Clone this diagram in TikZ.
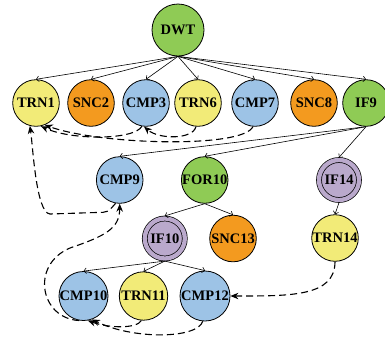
\documentclass[tikz,border=0pt]{standalone}
\usepackage{fontspec}
\setmainfont{Liberation Serif}
\usetikzlibrary{arrows.meta}
\definecolor{gnode}{HTML}{8FCB55}
\definecolor{ynode}{HTML}{F2EB78}
\definecolor{onode}{HTML}{F39A1F}
\definecolor{bnode}{HTML}{9DC3E6}
\definecolor{pnode}{HTML}{BAA9CC}
\begin{document}
\begin{tikzpicture}[x=1pt,y=-1pt,
  vtx/.style={circle,draw=black,line width=0.8pt,inner sep=0pt,minimum size=46.6pt,
    font=\fontsize{14.5}{14.5}\selectfont\bfseries},
  big/.style={minimum size=49pt},
  gv/.style={vtx,fill=gnode},
  yv/.style={vtx,fill=ynode},
  ov/.style={vtx,fill=onode},
  bv/.style={vtx,fill=bnode},
  pv/.style={vtx,fill=pnode,minimum size=40pt,line width=0.7pt,
    double=pnode,double distance=4.3pt,outer sep=2.6pt},
  tree/.style={line width=0.6pt,-{Straight Barb[length=2.5pt,width=5.5pt]}},
  flow/.style={line width=1.1pt,dash pattern=on 7pt off 4pt,
    -{Stealth[length=8pt,width=6.5pt]}}
]
\useasboundingbox (0,0) rectangle (385,341);

% nodes
\node[gv,minimum size=52pt] (DWT) at (178,30) {DWT};

\node[yv] (TRN1) at (36,103) {TRN1};
\node[ov] (SNC2) at (91,103) {SNC2};
\node[bv] (CMP3) at (146,103) {CMP3};
\node[yv] (TRN6) at (198,103) {TRN6};
\node[bv] (CMP7) at (255,103) {CMP7};
\node[ov] (SNC8) at (314,103) {SNC8};
\node[gv] (IF9) at (366,103) {IF9};

\node[bv] (CMP9) at (119.7,180) {CMP9};
\node[gv] (FOR10) at (204.7,180) {FOR10};
\node[pv] (IF14) at (339,180) {IF14};

\node[pv] (IF10) at (164.8,238.5) {IF10};
\node[ov] (SNC13) at (233,238.5) {SNC13};
\node[yv] (TRN14) at (335,238) {TRN14};

\node[bv,big] (CMP10) at (83.5,296) {CMP10};
\node[yv,big,minimum size=48.4pt] (TRN11) at (143.5,296) {TRN11};
\node[bv,big,minimum size=50pt] (CMP12) at (205,296) {CMP12};

% tree structure
\foreach \c in {TRN1,SNC2,CMP3,TRN6,CMP7,SNC8,IF9}
  \draw[tree] (DWT.south) -- (\c.north);
\foreach \c in {CMP9,FOR10,IF14}
  \draw[tree] (IF9.south) -- (\c.north);
\foreach \c in {IF10,SNC13}
  \draw[tree] (FOR10.south) -- (\c.north);
\draw[tree] (IF14.south) -- (TRN14.north);
\foreach \c in {CMP10,TRN11,CMP12}
  \draw[tree] (IF10.south) -- (\c.north);

% data flow
\coordinate (dA) at (96,212.5);
\coordinate (dB) at (50,214);
\coordinate (eM) at (70,248);

\draw[flow] (CMP3.-100) .. controls +(-8,14) and +(30,14) .. (TRN1.-78);
\draw[flow] (TRN6.-95) .. controls +(-3,13) and +(15,13) .. (CMP3.-95);
\draw[flow] (CMP7.-95) .. controls +(-10,22) and +(55,20) .. (TRN1.-68);
\draw[flow] (CMP9.-100) .. controls +(-8,9) and +(12,0) .. (dA) -- (dB)
  .. controls +(-14,-1) and +(3,20) .. (TRN1.-105);
\draw[flow] (CMP10.-100) .. controls +(-39,-2) and +(-40,17) .. (eM)
  .. controls +(35,-12) and +(0,25) .. (CMP9.south);
\draw[flow] (TRN11.-95) .. controls +(-4,8) and +(22,8) .. (CMP10.-80);
\draw[flow] (CMP12.-95) .. controls +(-6,18) and +(40,20) .. (CMP10.-70);
\draw[flow] (TRN14.south) .. controls +(0,35) and +(60,0) .. (CMP12.east);
\end{tikzpicture}
\end{document}
